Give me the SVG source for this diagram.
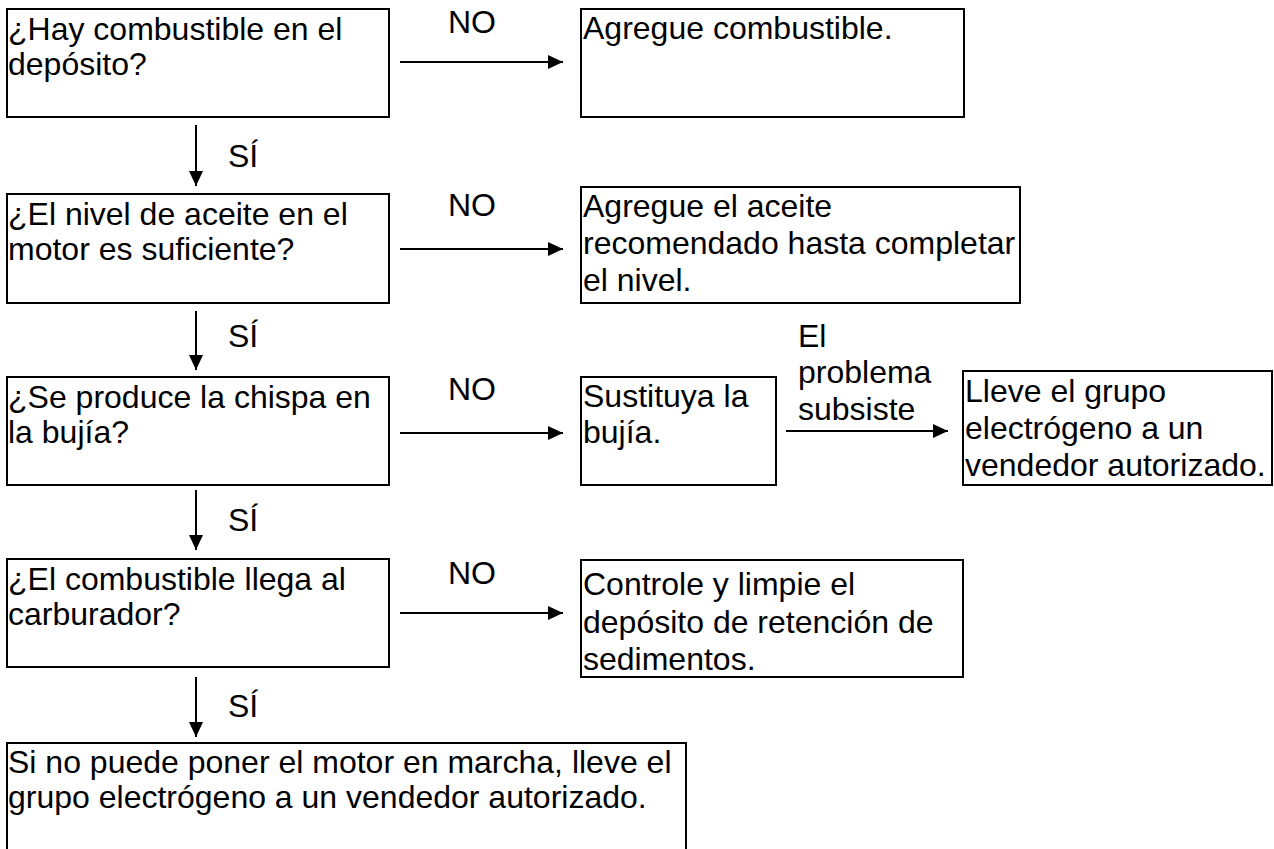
<svg xmlns="http://www.w3.org/2000/svg" width="1274" height="849" viewBox="0 0 1274 849">
<defs>
<style>
.box{fill:#fff;stroke:#000;stroke-width:2}
.t{font-family:"Liberation Sans",Arial,sans-serif;font-size:32px;fill:#000}
.c{stroke:#000;stroke-width:2;fill:none}
</style>
<marker id="ah" markerUnits="userSpaceOnUse" markerWidth="16" markerHeight="14" refX="15" refY="7" orient="auto">
<path d="M0,0 L15,7 L0,14 z" fill="#000"/>
</marker>
</defs>
<rect width="1274" height="849" fill="#fff"/>
<g id="n1"><rect class="box" x="7" y="9" width="382" height="108"/><text class="t" x="8" y="40">¿Hay combustible en el</text><text class="t" x="8" y="75">depósito?</text></g>
<g id="n1b"><rect class="box" x="581" y="9" width="383" height="108"/><text class="t" x="583" y="39">Agregue combustible.</text></g>
<g id="n2"><rect class="box" x="7" y="194" width="382" height="109"/><text class="t" x="8" y="225">¿El nivel de aceite en el</text><text class="t" x="8" y="260">motor es suficiente?</text></g>
<g id="n2b"><rect class="box" x="581" y="187" width="439" height="116"/><text class="t" x="583" y="217">Agregue el aceite</text><text class="t" x="583" y="254">recomendado hasta completar</text><text class="t" x="583" y="291">el nivel.</text></g>
<g id="n3"><rect class="box" x="7" y="377" width="382" height="108"/><text class="t" x="8" y="408">¿Se produce la chispa en</text><text class="t" x="8" y="443">la bujía?</text></g>
<g id="n3b"><rect class="box" x="581" y="377" width="195" height="108"/><text class="t" x="583" y="407">Sustituya la</text><text class="t" x="583" y="443">bujía.</text></g>
<g id="n3c"><rect class="box" x="963" y="371" width="309" height="114"/><text class="t" x="965" y="402">Lleve el grupo</text><text class="t" x="965" y="439">electrógeno a un</text><text class="t" x="965" y="476">vendedor autorizado.</text></g>
<g id="n4"><rect class="box" x="7" y="559" width="382" height="108"/><text class="t" x="8" y="590">¿El combustible llega al</text><text class="t" x="8" y="625">carburador?</text></g>
<g id="n4b"><rect class="box" x="581" y="560" width="382" height="117"/><text class="t" x="583" y="595">Controle y limpie el</text><text class="t" x="583" y="633">depósito de retención de</text><text class="t" x="583" y="670">sedimentos.</text></g>
<g id="n5"><rect class="box" x="7" y="743" width="679" height="120"/><text class="t" x="8" y="773">Si no puede poner el motor en marcha, lleve el</text><text class="t" x="8" y="808">grupo electrógeno a un vendedor autorizado.</text></g>
<g id="connectors">
<line class="c" x1="196" y1="125" x2="196" y2="186" marker-end="url(#ah)"/>
<line class="c" x1="196" y1="311" x2="196" y2="370" marker-end="url(#ah)"/>
<line class="c" x1="196" y1="490" x2="196" y2="550" marker-end="url(#ah)"/>
<line class="c" x1="196" y1="677" x2="196" y2="737" marker-end="url(#ah)"/>
<line class="c" x1="400" y1="62" x2="563" y2="62" marker-end="url(#ah)"/>
<line class="c" x1="400" y1="249" x2="563" y2="249" marker-end="url(#ah)"/>
<line class="c" x1="400" y1="433" x2="563" y2="433" marker-end="url(#ah)"/>
<line class="c" x1="400" y1="613" x2="563" y2="613" marker-end="url(#ah)"/>
<line class="c" x1="786" y1="431" x2="948" y2="431" marker-end="url(#ah)"/>
<text class="t" x="228" y="167">SÍ</text>
<text class="t" x="228" y="347">SÍ</text>
<text class="t" x="228" y="531">SÍ</text>
<text class="t" x="228" y="717">SÍ</text>
<text class="t" x="448" y="33">NO</text>
<text class="t" x="448" y="216">NO</text>
<text class="t" x="448" y="400">NO</text>
<text class="t" x="448" y="584">NO</text>
<text class="t" x="798" y="347">El</text>
<text class="t" x="798" y="383">problema</text>
<text class="t" x="798" y="420">subsiste</text>
</g>
</svg>
